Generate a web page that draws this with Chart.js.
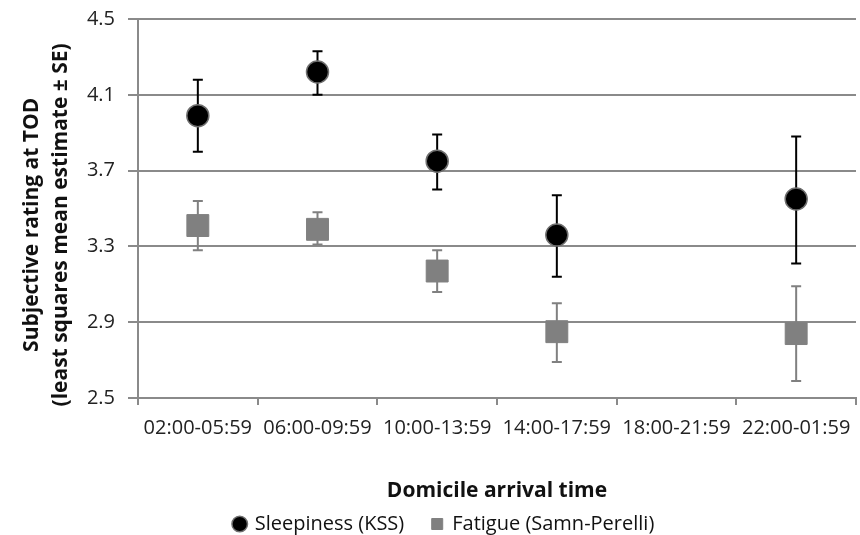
<!DOCTYPE html>
<html>
<head>
<meta charset="utf-8">
<script src="https://cdn.jsdelivr.net/npm/chart.js@4/dist/chart.umd.min.js"></script>
<style>
  html, body { margin: 0; padding: 0; background: #fff; }
</style>
</head>
<body>
<canvas id="myChart" width="860" height="535"></canvas>
<script>
const timeBins = ['02:00-05:59', '06:00-09:59', '10:00-13:59', '14:00-17:59', '18:00-21:59', '22:00-01:59'];

// least squares mean estimates, with +/- SE ends
const sleepiness = [3.99, 4.22, 3.75, 3.36, null, 3.55];
const sleepinessHigh = [4.18, 4.33, 3.89, 3.57, null, 3.88];
const sleepinessLow = [3.80, 4.10, 3.60, 3.14, null, 3.21];

const fatigue = [3.41, 3.39, 3.17, 2.85, null, 2.84];
const fatigueHigh = [3.54, 3.48, 3.28, 3.00, null, 3.09];
const fatigueLow = [3.28, 3.31, 3.06, 2.69, null, 2.59];

const yTicks = [2.5, 2.9, 3.3, 3.7, 4.1, 4.5];

const gridGray = '#8a8a8a';
const pad = '\u00a0\u00a0\u00a0\u00a0\u00a0\u00a0';

// draws the SE whiskers behind the markers
const errorBars = {
  id: 'errorBars',
  beforeDatasetsDraw(chart) {
    const ctx = chart.ctx;
    const xs = chart.scales.x;
    const ys = chart.scales.y;
    chart.data.datasets.forEach(ds => {
      ctx.save();
      ctx.strokeStyle = ds.errColor;
      ctx.lineWidth = 2;
      ds.data.forEach((v, i) => {
        if (v == null) return;
        const px = xs.getPixelForValue(i);
        const top = ys.getPixelForValue(ds.errHigh[i]);
        const bot = ys.getPixelForValue(ds.errLow[i]);
        ctx.beginPath();
        ctx.moveTo(px, top);
        ctx.lineTo(px, bot);
        ctx.moveTo(px - 5, top);
        ctx.lineTo(px + 5, top);
        ctx.moveTo(px - 5, bot);
        ctx.lineTo(px + 5, bot);
        ctx.stroke();
      });
      ctx.restore();
    });
  }
};

const ctx = document.getElementById('myChart').getContext('2d');

new Chart(ctx, {
  type: 'line',
  data: {
    labels: timeBins,
    datasets: [{
      label: 'Sleepiness (KSS)',
      data: sleepiness,
      errHigh: sleepinessHigh,
      errLow: sleepinessLow,
      errColor: '#000000',
      showLine: false,
      pointStyle: 'circle',
      pointRadius: 11,
      pointBackgroundColor: '#000000',
      pointBorderColor: '#6f6f6f',
      pointBorderWidth: 1.5,
      backgroundColor: '#000000',
      borderColor: '#000000',
      borderWidth: 1
    }, {
      label: 'Fatigue (Samn-Perelli)',
      data: fatigue,
      errHigh: fatigueHigh,
      errLow: fatigueLow,
      errColor: '#808080',
      showLine: false,
      pointStyle: 'rect',
      pointRadius: 15.5,
      pointBackgroundColor: '#808080',
      pointBorderColor: '#808080',
      pointBorderWidth: 1,
      backgroundColor: '#808080',
      borderColor: '#808080',
      borderWidth: 3
    }]
  },
  options: {
    responsive: false,
    animation: false,
    devicePixelRatio: 1,
    layout: {
      autoPadding: false,
      padding: { top: 19, right: 4, left: 33, bottom: -9 }
    },
    scales: {
      x: {
        offset: true,
        grid: {
          offset: true,
          drawOnChartArea: false,
          color: gridGray,
          lineWidth: 2,
          tickLength: 7
        },
        border: { color: gridGray, width: 2 },
        ticks: {
          autoSkip: false,
          maxRotation: 0,
          minRotation: 0,
          padding: 11,
          color: '#222',
          font: { family: 'Open Sans', size: 20 }
        },
        title: {
          display: true,
          text: 'Domicile arrival time',
          color: '#111',
          font: { family: 'Open Sans', size: 21, weight: 'bold' },
          padding: { top: 0, bottom: -18 }
        },
        afterFit: function(scale) {
          scale.height = 88;
          scale.paddingLeft = 0;
          scale.paddingRight = 0;
        }
      },
      y: {
        min: 2.5,
        max: 4.5,
        afterBuildTicks: function(scale) {
          scale.ticks = yTicks.map(v => ({ value: v }));
        },
        afterFit: function(scale) {
          scale.width = 105;
          scale.paddingTop = 0;
          scale.paddingBottom = 0;
        },
        border: { display: true, color: gridGray, width: 2 },
        grid: { color: gridGray, lineWidth: 2, tickLength: 10 },
        ticks: {
          padding: 13,
          color: '#222',
          font: { family: 'Open Sans', size: 20 },
          callback: function(v) { return Number(v).toFixed(1); }
        },
        title: {
          display: true,
          text: ['Subjective rating at TOD' + pad, '(least squares mean estimate \u00b1 SE)' + pad],
          color: '#111',
          font: { family: 'Open Sans', size: 21, weight: 'bold', lineHeight: 1.4 },
          padding: { top: -16, bottom: 0 }
        }
      }
    },
    plugins: {
      legend: {
        display: true,
        position: 'bottom',
        labels: {
          usePointStyle: true,
          boxHeight: 11,
          boxWidth: 10,
          padding: 28,
          color: '#111',
          font: { family: 'Open Sans', size: 20 }
        }
      },
      tooltip: { enabled: false }
    }
  },
  plugins: [errorBars]
});
</script>
</body>
</html>
